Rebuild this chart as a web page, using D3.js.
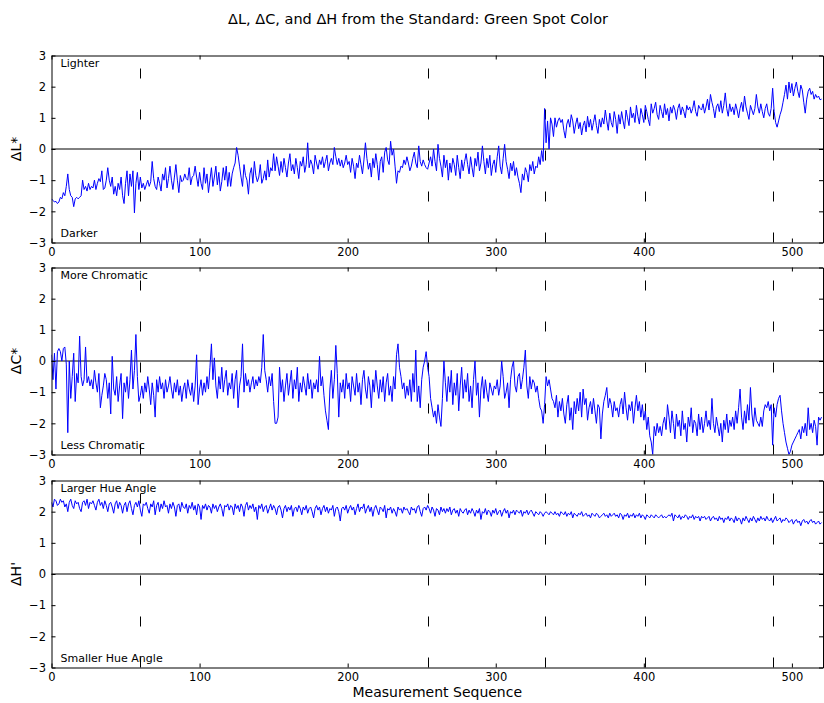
<!DOCTYPE html>
<html>
<head>
<meta charset="utf-8">
<script src="https://cdn.jsdelivr.net/npm/d3@7"></script>
<style>
    body { margin: 0; background: #fff; }
    text { font-family: "DejaVu Sans", sans-serif; fill: #000; }
</style>
</head>
<body>
<div id="chart"></div>
<script>
const deltaL = [
    -1.6,-1.65,-1.7,-1.68,-1.75,-1.7,-1.55,-1.6,-1.4,-1.5,-1.2,-0.8,-1.3,-1.5,-1.55,-1.85,-1.6,-1.55,-1.6,-1.55,
    -1.5,-1.0,-1.3,-1.2,-1.35,-1.1,-1.3,-1.2,-1.25,-1.0,-1.3,-1.1,-0.95,-1.05,-0.7,-1.3,-1.25,-1.0,-0.6,-1.0,
    -1.2,-0.9,-1.45,-1.2,-1.5,-1.1,-1.3,-0.9,-1.5,-1.75,-1.1,-0.7,-1.5,-0.8,-1.2,-0.7,-2.05,-1.1,-0.75,-1.3,
    -0.9,-1.25,-1.1,-1.3,-1.15,-1.0,-1.2,-1.05,-0.4,-0.95,-1.2,-1.3,-0.9,-1.1,-1.35,-0.8,-1.0,-0.6,-1.25,-0.95,
    -0.55,-1.0,-1.3,-0.9,-0.5,-1.0,-1.4,-0.85,-1.05,-1.0,-0.8,-0.95,-1.0,-0.6,-1.15,-0.9,-0.85,-0.55,-0.9,-1.2,
    -0.75,-1.1,-1.3,-0.6,-1.1,-0.8,-1.4,-1.0,-0.6,-1.2,-0.9,-0.55,-1.15,-0.75,-1.35,-1.05,-0.6,-1.0,-0.55,-1.2,
    -0.75,-1.2,-0.8,-0.6,-0.45,0.05,-0.2,-0.55,-0.9,-1.2,-0.5,-0.85,-1.0,-1.45,-0.8,-0.6,-1.1,-0.4,-0.85,-1.05,
    -0.9,-0.5,-1.1,-0.95,-0.7,-1.0,-0.35,-0.9,-0.6,-0.7,-0.15,-0.7,-0.25,-0.55,-0.85,-0.4,-0.75,-0.3,-0.6,-0.9,
    -0.45,-0.15,-0.7,-0.5,-0.8,-0.3,-0.6,-0.95,-0.4,-0.55,-0.25,-0.75,-0.5,0.2,-0.6,-0.35,-0.5,-0.8,-0.2,-0.45,
    -0.65,-0.35,-0.5,-0.25,-0.6,-0.4,-0.2,-0.7,-0.45,-0.3,-0.5,0.05,-0.25,-0.5,-0.3,-0.55,-0.35,-0.6,-0.45,-0.2,
    -0.5,-0.4,-0.75,-0.3,-0.55,-0.95,-0.45,-0.6,-0.2,-0.5,-0.8,-0.35,0.2,-0.3,-0.65,-0.45,-0.9,-0.3,-0.6,-0.15,
    -0.5,-1.0,-0.4,-0.25,-0.75,-0.1,0.05,-0.35,-0.5,0.25,-0.2,0.0,-0.55,-1.1,-0.7,-0.75,-0.55,-0.6,-0.35,-0.5,
    -0.25,-0.45,-0.7,-0.55,-0.3,-0.1,-0.45,-0.6,0.1,-0.4,-0.55,-0.35,-0.5,-0.6,-0.65,-0.45,-0.25,-0.55,0.0,-0.4,
    -0.7,0.15,-0.3,-0.55,-0.9,-0.2,-0.6,-0.35,-1.0,-0.45,-0.75,-0.3,-0.5,-0.85,-0.2,-0.6,-0.95,-0.35,-0.7,-0.4,
    -0.15,-0.5,-0.8,-0.25,-0.6,-0.9,-0.3,-0.55,-0.1,-0.7,-0.45,0.1,-0.4,-0.8,-0.3,-0.6,-0.2,-0.85,-0.5,-0.35,
    -0.75,-0.25,0.1,-0.55,-0.8,-0.3,0.15,-0.4,-0.65,-0.95,-0.45,-0.7,-0.4,-0.85,-0.6,-0.9,-1.1,-1.4,-0.8,-1.0,
    -0.6,-0.75,-1.05,-0.5,-0.7,-0.4,-0.8,-0.55,-0.6,-0.25,-0.5,-0.05,-0.4,1.3,0.2,0.9,0.0,1.0,0.8,0.4,
    1.0,0.7,0.9,1.0,0.85,0.95,0.6,0.35,0.8,0.95,0.7,1.1,0.9,0.5,0.8,1.0,0.65,0.85,0.45,0.75,
    0.9,0.55,1.05,0.7,0.95,0.6,0.85,1.1,0.75,0.5,0.95,0.7,1.0,0.8,1.25,0.9,0.6,1.15,0.85,0.7,
    1.2,0.95,0.5,1.1,0.8,1.2,0.9,0.65,1.25,1.0,0.75,1.35,1.0,1.15,0.85,1.4,1.05,0.8,1.3,1.1,
    0.85,1.4,1.2,0.95,0.75,1.45,1.15,1.3,1.5,1.1,0.95,1.4,1.2,1.0,1.45,1.1,1.3,0.9,1.35,1.15,
    1.4,1.25,0.95,1.3,1.45,1.1,1.35,1.2,1.0,1.4,1.25,1.35,1.15,1.3,1.55,1.2,1.05,1.4,1.3,1.25,
    1.45,1.15,1.35,1.6,1.25,1.75,1.5,1.3,1.0,1.35,1.45,1.2,1.55,1.15,1.4,1.8,1.3,1.05,1.45,1.2,
    1.35,1.1,1.45,1.25,1.0,1.3,1.5,1.2,1.7,1.35,1.15,0.95,1.4,1.25,1.1,1.3,1.75,1.35,1.15,1.45,
    1.2,1.0,1.3,1.45,1.15,1.05,1.3,1.95,1.2,0.85,0.7,0.9,1.1,1.25,1.5,1.75,2.05,1.6,2.15,1.8,
    2.1,1.7,1.95,2.15,1.85,1.65,2.05,1.9,1.5,1.15,1.6,1.85,1.95,1.75,1.85,1.6,1.75,1.65,1.7,1.58,1.6
];

const deltaC = [
    0.2,-0.6,0.25,-0.9,0.3,0.4,0.3,0.0,0.4,0.45,-0.1,-2.3,0.0,-1.2,-0.5,0.25,-1.3,-0.4,-0.7,0.8,
    -0.5,-0.8,-0.6,0.45,-0.7,-0.5,-0.8,-0.6,-0.9,-0.3,-0.7,-1.0,-0.4,-1.5,-1.1,-0.8,-0.4,-0.6,-1.2,-0.7,
    -1.7,0.15,-0.9,-1.1,-0.5,-1.3,-0.8,-0.4,-1.85,-0.7,-1.0,-0.5,-1.2,-0.6,0.35,-0.9,-0.3,0.85,-0.5,-1.3,
    -1.1,-0.8,-1.2,-0.7,-1.0,-0.5,-0.9,-1.4,-0.7,-1.1,-1.8,-0.6,-1.0,-0.5,-0.9,-0.7,-1.2,-0.6,-1.0,-0.8,
    -0.5,-0.9,-1.2,-0.7,-1.0,-0.6,-1.1,-0.8,-1.3,-0.9,-0.7,-1.2,-0.6,-0.9,-1.1,-0.7,-1.3,-0.8,0.2,-1.4,
    -0.9,-0.6,-1.1,-0.7,-1.0,-0.5,-0.9,-0.2,0.55,-0.6,0.1,-0.8,-1.2,-0.5,-0.9,-0.2,-1.0,-0.6,-0.3,-1.1,
    -0.7,-0.9,-0.4,-1.2,-0.6,-0.3,-1.5,-0.8,-0.5,0.55,-1.0,-0.4,-0.8,-0.6,-1.0,-0.7,-0.5,-0.9,-0.6,-0.8,
    -0.5,-0.7,-0.2,0.85,-0.3,-0.6,-1.0,-0.5,-0.8,-0.4,-1.3,-2.0,-2.0,-1.8,-0.2,-1.0,-0.6,-1.3,-0.8,-0.4,
    -1.1,-0.7,-0.3,-1.2,-0.6,-0.9,-0.2,-1.3,-0.7,-1.0,-0.5,-0.8,-1.1,-0.4,-0.9,-0.6,-1.2,-0.7,-0.9,-0.6,
    -1.0,0.15,-0.8,-0.5,-1.1,-1.6,-1.9,-2.2,-0.9,-0.3,-1.2,-0.6,0.5,-0.4,-1.8,-0.7,-1.0,-0.6,-1.2,-0.4,
    -0.9,-0.7,-1.3,-0.5,-0.8,-1.1,-0.4,-1.0,-0.7,-1.4,-0.6,-0.3,-0.9,-1.2,-0.5,-0.8,-1.5,-0.6,-1.0,-0.3,
    -0.8,-1.2,-0.6,-1.0,-0.5,-1.3,-0.7,-0.4,-1.1,-0.8,-1.3,-0.5,-0.9,0.2,0.55,-0.2,-0.5,-0.9,-0.7,-1.2,
    -0.8,-1.1,-0.6,-1.3,-0.4,-1.0,0.35,-1.3,-0.8,-1.5,-0.6,-0.2,0.0,0.3,-0.2,-0.5,-1.2,-1.5,-1.8,-1.6,
    -2.0,-1.4,-1.8,-2.1,-1.2,0.0,-0.7,-1.3,-0.5,-1.0,-0.3,-1.4,-0.7,-1.1,-0.4,-1.6,-0.8,-0.2,-1.2,-0.6,
    -1.0,-0.4,-1.3,-0.8,-1.5,-0.6,0.0,-1.1,-0.7,-1.8,-0.9,-0.5,-1.2,-0.6,-1.0,-1.3,-0.7,-0.9,-1.1,-0.8,
    -0.9,-0.6,-1.1,-0.8,0.0,-0.5,-1.2,-1.0,-0.7,-1.5,-0.6,-0.2,0.0,-0.8,-1.0,-0.5,-0.4,-0.9,-0.6,-0.2,
    0.35,-0.8,-1.2,-0.5,-0.9,-0.6,-0.7,-1.0,-0.8,-1.2,-1.5,-1.6,-2.0,-1.4,-0.5,-0.8,-0.6,-0.9,-1.2,-1.3,
    -1.5,-1.1,-1.8,-1.3,-1.6,-1.2,-1.7,-2.0,-1.4,-1.1,-1.9,-1.5,-2.2,-1.3,-1.7,-1.2,-1.6,-1.0,-1.8,-0.9,
    -1.4,-1.2,-1.9,-1.5,-1.3,-1.7,-1.2,-1.6,-2.0,-1.4,-1.5,-2.5,-1.7,-1.3,-1.1,-0.85,-1.5,-1.2,-1.4,-1.8,
    -1.3,-1.6,-1.5,-1.8,-1.4,-1.2,-1.7,-1.0,-1.5,-1.9,-1.4,-1.6,-1.3,-2.0,-1.5,-1.1,-1.6,-1.3,-1.8,-1.4,
    -1.9,-1.6,-2.2,-1.8,-2.4,-2.6,-3.0,-2.1,-2.4,-2.0,-2.3,-2.1,-2.4,-2.0,-1.8,-2.2,-1.4,-1.8,-2.3,-1.6,
    -2.0,-2.5,-1.7,-2.1,-1.9,-2.4,-1.6,-2.2,-2.0,-2.6,-1.8,-2.1,-1.5,-2.3,-1.9,-2.0,-2.4,-1.7,-2.2,-1.8,
    -2.3,-2.0,-1.6,-2.1,-1.9,-2.2,-1.2,-2.0,-2.3,-1.8,-2.1,-2.4,-2.0,-2.6,-1.9,-2.2,-1.7,-2.3,-1.9,-2.1,
    -1.8,-2.2,-1.6,-2.0,-1.5,-0.9,-1.8,-2.2,-1.6,-2.0,-1.4,-1.9,-0.85,-1.7,-2.1,-1.5,-1.9,-2.0,-2.1,-1.8,
    -2.1,-1.6,-1.4,-1.5,-1.3,-1.6,-1.4,-2.7,-1.5,-1.8,-1.4,-1.2,-1.1,-1.6,-2.0,-2.3,-2.6,-2.8,-3.0,-2.9,
    -2.7,-2.6,-2.5,-2.4,-2.3,-2.2,-2.5,-2.1,-2.3,-2.0,-2.4,-1.5,-2.2,-2.0,-2.3,-1.9,-2.1,-2.7,-1.8,-1.9,-1.8
];

const deltaH = [
    2.3,2.15,2.4,2.35,2.2,2.25,2.4,2.3,2.35,2.15,2.25,2.0,2.3,2.4,2.2,2.1,2.35,2.25,2.3,2.1,
    2.0,2.3,2.35,2.2,2.4,2.1,2.3,2.25,2.35,2.2,2.05,2.3,2.4,2.2,2.3,2.1,2.35,2.2,2.0,2.25,
    2.3,2.15,1.95,2.25,2.35,2.1,2.3,2.2,1.95,2.2,2.3,2.0,2.25,2.35,2.1,1.9,2.2,2.3,2.15,2.35,
    2.05,1.85,2.25,2.2,2.3,2.1,1.95,2.25,2.15,2.35,1.9,2.2,2.3,2.0,2.25,2.1,2.35,2.15,2.2,1.95,
    2.25,2.1,2.3,2.15,1.85,2.2,2.25,2.0,2.3,2.15,2.1,2.25,1.95,2.2,2.1,2.3,2.05,2.2,1.9,2.25,
    2.15,1.75,2.2,2.1,2.25,2.05,2.2,2.15,1.95,2.25,2.1,2.2,2.0,2.15,2.25,2.1,1.85,2.2,2.15,2.25,
    2.05,2.2,2.15,1.9,2.25,2.1,2.2,2.0,2.25,2.15,1.85,2.2,2.3,2.05,2.2,2.1,2.25,2.0,2.15,1.75,
    2.2,2.1,2.25,2.0,2.15,2.2,1.95,2.1,2.25,2.05,2.2,2.1,1.9,2.15,2.2,2.05,1.8,2.1,2.2,2.0,
    2.15,2.05,2.2,1.85,2.1,2.15,2.0,2.2,2.1,1.9,2.15,2.05,2.2,1.95,2.1,2.15,2.0,1.8,2.1,2.2,
    2.05,2.15,1.9,2.1,2.2,2.0,2.15,1.95,2.1,2.05,2.2,1.85,2.1,2.15,2.0,1.7,2.1,2.15,2.05,2.2,
    1.95,2.1,2.2,2.05,2.15,1.9,2.1,2.25,2.0,2.15,2.1,2.25,1.95,2.1,2.2,2.0,2.15,1.85,2.1,2.2,
    2.05,1.9,2.15,2.1,2.0,2.2,1.8,2.1,2.05,2.15,1.95,2.1,2.0,1.85,2.15,2.05,2.1,1.95,2.15,2.05,
    2.1,2.0,1.9,2.15,2.05,2.1,1.95,2.15,2.2,2.0,1.85,2.1,2.15,2.05,2.2,2.1,1.95,2.15,2.05,1.85,
    2.1,2.05,1.9,2.15,2.0,2.1,1.95,2.1,2.0,2.15,1.9,2.05,2.1,1.95,2.05,1.85,2.1,2.0,1.95,2.05,
    2.1,1.9,2.05,1.95,2.1,2.0,1.85,2.05,1.95,2.1,1.75,2.0,1.95,2.1,1.9,2.05,2.0,1.85,2.05,1.95,
    2.1,1.9,2.0,2.05,1.85,2.0,2.1,1.95,2.05,1.8,2.0,1.95,2.05,1.9,2.05,2.0,1.95,2.05,1.85,2.0,
    1.95,2.05,1.9,2.0,2.05,1.95,1.85,2.0,1.95,1.9,2.0,1.95,1.85,1.95,2.0,1.95,1.9,2.0,1.95,1.9,
    2.0,1.9,1.95,1.85,2.0,1.95,1.9,2.0,1.85,1.95,1.9,2.0,1.8,1.95,1.9,1.85,1.95,1.9,2.0,1.85,
    1.9,1.95,1.85,1.9,1.8,1.95,1.9,1.85,1.95,1.9,1.8,1.85,1.9,1.95,1.85,1.9,1.8,1.95,1.85,1.9,
    1.95,1.85,1.9,1.8,1.95,1.9,1.75,1.9,1.85,1.95,1.8,1.9,1.85,1.95,1.8,1.9,1.85,1.95,1.8,1.9,
    1.85,1.75,1.9,1.85,1.8,1.9,1.85,1.8,1.9,1.85,1.8,1.85,1.9,1.8,1.85,1.8,1.85,1.9,1.85,1.95,
    1.7,1.9,1.85,1.8,1.9,1.75,1.85,1.8,1.9,1.85,1.75,1.85,1.8,1.9,1.75,1.85,1.8,1.85,1.7,1.85,
    1.8,1.85,1.75,1.8,1.85,1.7,1.8,1.85,1.75,1.8,1.7,1.85,1.75,1.8,1.65,1.8,1.75,1.85,1.7,1.8,
    1.75,1.65,1.85,1.7,1.8,1.75,1.6,1.8,1.7,1.85,1.75,1.65,1.8,1.7,1.85,1.75,1.65,1.8,1.7,1.85,
    1.75,1.8,1.7,1.85,1.75,1.7,1.8,1.65,1.75,1.85,1.7,1.75,1.8,1.65,1.75,1.7,1.8,1.75,1.65,1.7,
    1.75,1.6,1.7,1.75,1.65,1.7,1.55,1.7,1.75,1.65,1.7,1.6,1.7,1.75,1.65,1.7,1.6,1.65,1.7,1.6,1.65
];

const xTicks = [0, 100, 200, 300, 400, 500];
const yTicks = [-3, -2, -1, 0, 1, 2, 3];
const splitPoints = [60, 254, 333, 401, 487]; // dashed markers along the sequence

const panels = [
    { yLabel: 'ΔL*', values: deltaL, upper: 'Lighter', lower: 'Darker' },
    { yLabel: 'ΔC*', values: deltaC, upper: 'More Chromatic', lower: 'Less Chromatic' },
    { yLabel: "ΔH'", values: deltaH, upper: 'Larger Hue Angle', lower: 'Smaller Hue Angle' }
];

const width = 824;
const height = 703;
const left = 51.5;
const right = 823;
const panelTops = [55.5, 267.5, 480.5];
const panelHeight = 187;

const svg = d3.select('#chart').append('svg')
    .attr('width', width)
    .attr('height', height);

const xScale = d3.scaleLinear()
    .domain([0, 521])
    .range([left, right]);

svg.append('text')
    .attr('x', 418)
    .attr('y', 24)
    .attr('text-anchor', 'middle')
    .style('font-size', '14.5px')
    .text('ΔL, ΔC, and ΔH from the Standard: Green Spot Color');

panels.forEach((p, i) => {
    const top = panelTops[i];
    const bottom = top + panelHeight;

    const yScale = d3.scaleLinear()
        .domain([-3, 3])
        .range([bottom, top]);

    const g = svg.append('g');

    const clipId = 'clip' + i;
    g.append('clipPath').attr('id', clipId)
        .append('rect')
        .attr('x', left).attr('y', top)
        .attr('width', right - left).attr('height', panelHeight);

    // dashed markers, drawn upward from the bottom edge
    g.selectAll('.split')
        .data(splitPoints)
        .enter()
        .append('line')
        .attr('class', 'split')
        .attr('x1', d => Math.round(xScale(d)) + 0.5)
        .attr('x2', d => Math.round(xScale(d)) + 0.5)
        .attr('y1', bottom)
        .attr('y2', top)
        .attr('stroke', '#000')
        .attr('stroke-width', 1)
        .attr('stroke-dasharray', '10,31');

    g.append('line')
        .attr('x1', left).attr('x2', right)
        .attr('y1', yScale(0)).attr('y2', yScale(0))
        .attr('stroke', '#000')
        .attr('stroke-width', 1);

    const line = d3.line()
        .x((d, k) => xScale(k))
        .y(d => yScale(d));

    g.append('path')
        .datum(p.values)
        .attr('clip-path', `url(#${clipId})`)
        .attr('fill', 'none')
        .attr('stroke', '#0000ff')
        .attr('stroke-width', 1)
        .attr('d', line);

    // axes with inward ticks on all four sides
    const bottomAxis = g.append('g')
        .attr('transform', `translate(0,${bottom})`)
        .call(d3.axisBottom(xScale).tickValues(xTicks).tickSizeInner(-4).tickSizeOuter(0).tickPadding(5));
    const leftAxis = g.append('g')
        .attr('transform', `translate(${left},0)`)
        .call(d3.axisLeft(yScale).tickValues(yTicks).tickFormat(d3.format('d'))
            .tickSizeInner(-4).tickSizeOuter(0).tickPadding(5.5));
    const topAxis = g.append('g')
        .attr('transform', `translate(0,${top})`)
        .call(d3.axisTop(xScale).tickValues(xTicks).tickSizeInner(-4).tickSizeOuter(0).tickFormat(''));
    const rightAxis = g.append('g')
        .attr('transform', `translate(${right},0)`)
        .call(d3.axisRight(yScale).tickValues(yTicks).tickSizeInner(-4).tickSizeOuter(0).tickFormat(''));

    [bottomAxis, leftAxis, topAxis, rightAxis].forEach(a => {
        a.selectAll('text')
            .style('font-family', '"DejaVu Sans", sans-serif')
            .style('font-size', '11.5px')
            .attr('fill', '#000');
        a.selectAll('line').attr('stroke', '#000');
        a.select('.domain').attr('stroke', '#000');
    });

    g.append('text')
        .attr('x', left + 9)
        .attr('y', top + 11)
        .style('font-size', '11px')
        .text(p.upper);

    g.append('text')
        .attr('x', left + 9)
        .attr('y', bottom - 6)
        .style('font-size', '11px')
        .text(p.lower);

    g.append('text')
        .attr('transform', `translate(21,${(top + bottom) / 2}) rotate(-90)`)
        .attr('text-anchor', 'middle')
        .style('font-size', '14px')
        .text(p.yLabel);
});

svg.append('text')
    .attr('x', (left + right) / 2)
    .attr('y', 697)
    .attr('text-anchor', 'middle')
    .style('font-size', '14px')
    .text('Measurement Sequence');
</script>
</body>
</html>
